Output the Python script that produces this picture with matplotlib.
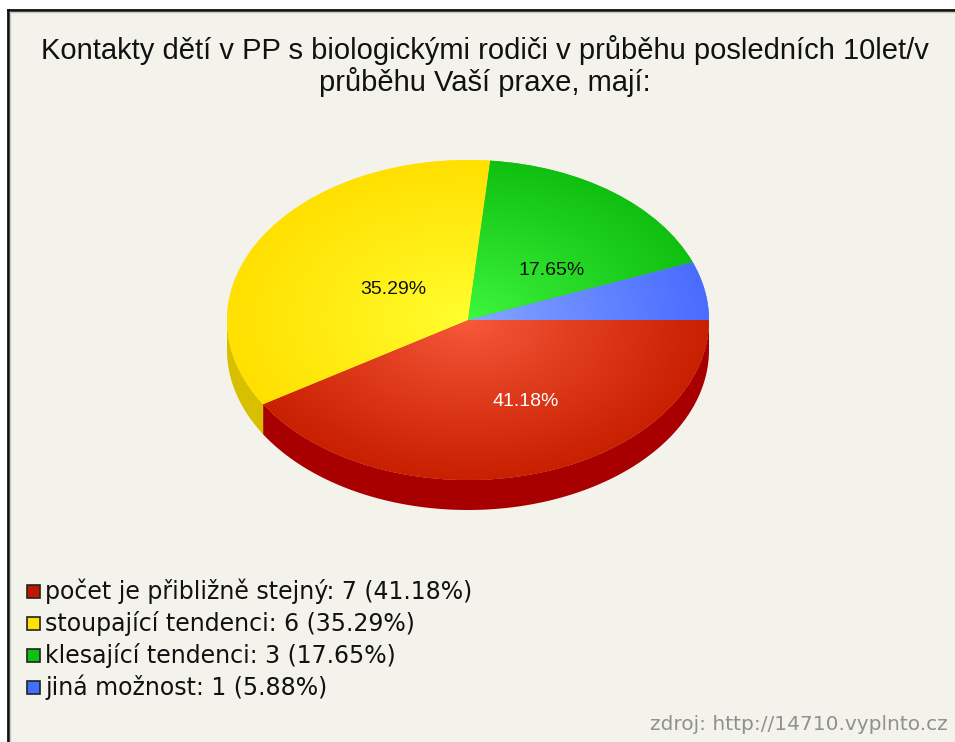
import numpy as np
import matplotlib
matplotlib.use("Agg")
import matplotlib.pyplot as plt
from matplotlib.patches import Polygon, Rectangle
from matplotlib.lines import Line2D

# ---- data ----
title = "Kontakty dětí v PP s biologickými rodiči v průběhu posledních 10let/v\nprůběhu Vaší praxe, mají:"
categories = ["počet je přibližně stejný", "stoupající tendenci", "klesající tendenci", "jiná možnost"]
counts = [7, 6, 3, 1]
source = "zdroj: http://14710.vyplnto.cz"

# ---- style ----
base_cols = ["#c82000", "#ffe000", "#10c010", "#4a6cff"]
light_cols = ["#f85a3c", "#ffff30", "#40f840", "#88a8ff"]
side_cols = ["#a80000", "#d8c000", "#0a9a0a", "#3050c8"]
legend_cols = ["#c01800", "#ffe000", "#10c010", "#4070ff"]
bg = "#f3f3eb"
font = "Liberation Sans"
wide_font = "DejaVu Sans"

W, H = 955, 742
fig = plt.figure(figsize=(W / 100, H / 100), dpi=100)
fig.patch.set_facecolor("white")

# background panel & border (top and left visible)
fig.patches.append(Rectangle((8 / W, 0), 1, 1 - 10 / H, transform=fig.transFigure,
                             facecolor=bg, edgecolor="none", zorder=-5))
fig.lines.append(Line2D([8 / W, 8 / W], [0, 1 - 10 / H], transform=fig.transFigure,
                        color="#111111", lw=2, zorder=-4))
fig.lines.append(Line2D([8 / W, 1], [1 - 10 / H, 1 - 10 / H], transform=fig.transFigure,
                        color="#111111", lw=2, zorder=-4))
fig.lines.append(Line2D([10 / W, 10 / W], [0, 1 - 12 / H], transform=fig.transFigure,
                        color="#c8c8c0", lw=1, zorder=-4))
fig.lines.append(Line2D([10 / W, 1], [1 - 12 / H, 1 - 12 / H], transform=fig.transFigure,
                        color="#c8c8c0", lw=1, zorder=-4))

# title
fig.text(485 / W, 1 - 66 / H, title, ha="center", va="center", fontsize=21,
         family=font, color="#111111", linespacing=1.05)

# ---- pie ----
cx, cy, rx, ry = 468, 320, 241, 160
xl, yl_top, yl_bot = 1.05, 1.05, 1.3
left = cx - xl * rx
top = cy - yl_top * ry
wpx = 2 * xl * rx
hpx = (yl_top + yl_bot) * ry
ax = fig.add_axes([left / W, 1 - (top + hpx) / H, wpx / W, hpx / H])
ax.set_facecolor("none")
wedges, texts, autotexts = ax.pie(counts, colors=base_cols, startangle=0, counterclock=False,
                                  radius=1, autopct="%.2f%%", pctdistance=0.5,
                                  wedgeprops=dict(linewidth=0),
                                  textprops=dict(family=font, fontsize=14))
ax.set_aspect("auto")
ax.axis("off")

depth = 30 / ry
# sides (front half only)
for w, sc in zip(wedges, side_cols):
    t1, t2 = w.theta1 % 360, w.theta2 % 360
    if t2 <= t1:
        t2 += 360
    for lo, hi in [(180, 360), (540, 720)]:
        a, b = max(t1, lo), min(t2, hi)
        if b > a:
            th = np.radians(np.linspace(a, b, 100))
            xs, ys = np.cos(th), np.sin(th)
            pts = np.concatenate([np.column_stack([xs, ys]),
                                  np.column_stack([xs[::-1], ys[::-1] - depth])])
            ax.add_patch(Polygon(pts, closed=True, facecolor=sc, edgecolor="none", zorder=0.5))

# radial gradient on top surface
n = 400
g = np.linspace(-1.05, 1.05, n)
GX, GY = np.meshgrid(g, g)
R = np.clip(np.hypot(GX, GY), 0, 1)
for w, bc, lc in zip(wedges, base_cols, light_cols):
    c0 = np.array(matplotlib.colors.to_rgb(lc))
    c1 = np.array(matplotlib.colors.to_rgb(bc))
    f = (R ** 0.9)[..., None]
    img = c0 * (1 - f) + c1 * f
    im = ax.imshow(img, extent=(-1.05, 1.05, -1.05, 1.05), origin="lower",
                   aspect="auto", zorder=1.5, interpolation="bilinear")
    im.set_clip_path(w)
ax.set_xlim(-xl, xl)
ax.set_ylim(-yl_bot, yl_top)

label_xy = [(0.24, -0.51), (-0.31, 0.19), (0.345, 0.31)]
label_cols = ["white", "#111111", "#111111"]
for i, t in enumerate(autotexts):
    t.set_zorder(3)
    if i < len(label_xy):
        t.set_position(label_xy[i])
        t.set_color(label_cols[i])
    else:
        t.set_visible(False)

# ---- legend ----
total = sum(counts)
for i, (cat, cnt, col) in enumerate(zip(categories, counts, legend_cols)):
    ypx = 591 + i * 32
    fig.patches.append(Rectangle((27 / W, 1 - (ypx + 7) / H), 13 / W, 13 / H,
                                 transform=fig.transFigure, facecolor=col,
                                 edgecolor="#222222", lw=1.2, zorder=2))
    fig.text(45 / W, 1 - ypx / H, f"{cat}: {cnt} ({cnt / total * 100:.2f}%)",
             ha="left", va="center", fontsize=17, family=wide_font, color="#111111")

fig.text(948 / W, 1 - 725 / H, source, ha="right", va="center", fontsize=14.5,
         family=wide_font, color="#909090")

fig.savefig("out.png", dpi=100, facecolor=fig.get_facecolor())
